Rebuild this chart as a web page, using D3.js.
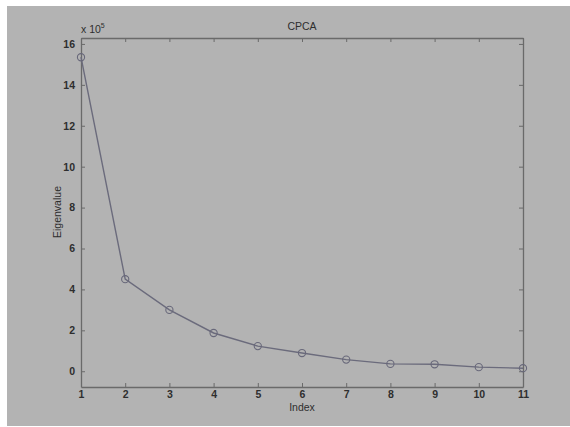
<!DOCTYPE html>
<html>
<head>
<meta charset="utf-8">
<script src="https://cdn.jsdelivr.net/npm/d3@7"></script>
<style>
  html, body { margin: 0; padding: 0; background: #ffffff; }
  svg { display: block; }
  text { font-family: "Liberation Sans", Arial, sans-serif; fill: #2e2e2e; }
</style>
</head>
<body>
<svg id="chart" width="570" height="427"></svg>
<script>
// Eigenvalue spectrum (values in units of 10^5)
const indices = [1, 2, 3, 4, 5, 6, 7, 8, 9, 10, 11];
const eigenvalues = [15.35, 4.5, 3.0, 1.87, 1.23, 0.89, 0.57, 0.36, 0.34, 0.2, 0.15];
const xTicks = [1, 2, 3, 4, 5, 6, 7, 8, 9, 10, 11];
const yTicks = [0, 2, 4, 6, 8, 10, 12, 14, 16];
const chartTitle = "CPCA";
const xLabel = "Index";
const yLabel = "Eigenvalue";
const exponent = "5";

const svg = d3.select("#chart");
const W = 570, H = 427;

// page background
svg.append("rect").attr("x", 7).attr("y", 6).attr("width", W - 7).attr("height", H - 7)
  .attr("fill", "#b3b3b3");

const plotLeft = 81, plotRight = 523, plotTop = 38, plotBottom = 387;
const x = d3.scaleLinear().domain([1, 11]).range([plotLeft, plotRight]);
const y = d3.scaleLinear().domain([-0.77, 16.29]).range([plotBottom, plotTop]);

const axisColor = "#6a6a6a";
const tickLen = 4;

function styleAxis(g, hideText) {
  g.select(".domain").attr("stroke", axisColor).attr("stroke-width", 1.3);
  g.selectAll(".tick line").attr("stroke", axisColor).attr("stroke-width", 1);
  g.selectAll(".tick text").attr("fill", "#2e2e2e").attr("font-size", 10.5)
    .attr("font-weight", "bold")
    .style("font-family", "'Liberation Sans', Arial, sans-serif");
  if (hideText) g.selectAll(".tick text").remove();
}

// bottom axis with labels, inward ticks
svg.append("g").attr("transform", `translate(0,${plotBottom})`)
  .call(d3.axisBottom(x).tickValues(xTicks).tickSizeInner(-tickLen).tickSizeOuter(0).tickPadding(4))
  .call(g => styleAxis(g, false));
// top axis, ticks only
svg.append("g").attr("transform", `translate(0,${plotTop})`)
  .call(d3.axisTop(x).tickValues(xTicks).tickSizeInner(-tickLen).tickSizeOuter(0))
  .call(g => styleAxis(g, true));
// left axis with labels
svg.append("g").attr("transform", `translate(${plotLeft},0)`)
  .call(d3.axisLeft(y).tickValues(yTicks).tickSizeInner(-tickLen).tickSizeOuter(0).tickPadding(6))
  .call(g => styleAxis(g, false));
// right axis, ticks only
svg.append("g").attr("transform", `translate(${plotRight},0)`)
  .call(d3.axisRight(y).tickValues(yTicks).tickSizeInner(-tickLen).tickSizeOuter(0))
  .call(g => styleAxis(g, true));

// data line
const pts = indices.map((d, i) => [d, eigenvalues[i]]);
svg.append("path").datum(pts)
  .attr("fill", "none").attr("stroke", "#6b6b7c").attr("stroke-width", 1.4)
  .attr("d", d3.line().x(d => x(d[0])).y(d => y(d[1])));

svg.append("g").selectAll("circle").data(pts).join("circle")
  .attr("cx", d => x(d[0])).attr("cy", d => y(d[1])).attr("r", 3.6)
  .attr("fill", "none").attr("stroke", "#68687a").attr("stroke-width", 1.1);

// title and labels
svg.append("text").attr("x", (plotLeft + plotRight) / 2).attr("y", 30)
  .attr("text-anchor", "middle").attr("font-size", 10.5).text(chartTitle);
svg.append("text").attr("x", (plotLeft + plotRight) / 2).attr("y", 411)
  .attr("text-anchor", "middle").attr("font-size", 10.5).text(xLabel);
svg.append("text").attr("transform", `translate(61,212) rotate(-90)`)
  .attr("text-anchor", "middle").attr("font-size", 10.5).text(yLabel);

// exponent label
const ex = svg.append("text").attr("x", 81).attr("y", 33).attr("font-size", 10.5);
ex.append("tspan").text("x 10");
ex.append("tspan").attr("dy", -5).attr("font-size", 7).text(exponent);
</script>
</body>
</html>
